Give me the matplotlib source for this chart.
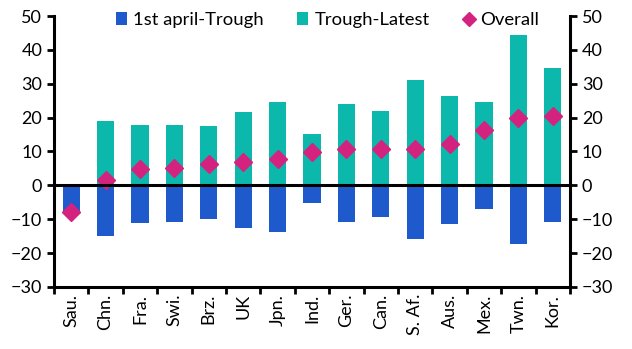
import matplotlib.pyplot as plt
import numpy as np

plt.rcParams['font.family'] = ['Lato', 'DejaVu Sans']

countries = ['Sau.', 'Chn.', 'Fra.', 'Swi.', 'Brz.', 'UK', 'Jpn.', 'Ind.',
             'Ger.', 'Can.', 'S. Af.', 'Aus.', 'Mex.', 'Twn.', 'Kor.']
april_trough = [-7.8, -15.0, -11.0, -10.7, -9.9, -12.5, -13.8, -5.1,
                -10.8, -9.3, -15.8, -11.3, -6.9, -17.2, -10.8]
trough_latest = [0.3, 19.1, 17.9, 17.9, 17.6, 21.8, 24.7, 15.3,
                 24.1, 22.0, 31.2, 26.5, 24.7, 44.4, 34.7]
overall = [-7.9, 1.6, 4.8, 5.2, 6.4, 6.8, 7.9, 9.7,
           10.8, 10.8, 10.8, 12.3, 16.2, 19.8, 20.4]

blue = '#1f5acd'
teal = '#0cb8ab'
pink = '#d4237f'

fig = plt.figure(figsize=(6.32, 3.49), dpi=100)
ax = fig.add_axes([0.0854, 0.178, 0.8166, 0.776])

x = np.arange(len(countries))
b1 = ax.bar(x, april_trough, width=0.5, color=blue, label='1st april-Trough', zorder=2)
b2 = ax.bar(x, trough_latest, width=0.5, color=teal, label='Trough-Latest', zorder=2)
d, = ax.plot(x, overall, 'D', color=pink, ms=9, label='Overall', zorder=3)
ax.axhline(0, color='black', lw=2.2, zorder=4)

ax.set_xlim(-0.5, len(countries) - 0.5)
ax.set_ylim(-30, 50)
ax.set_yticks(range(-30, 51, 10))
ax.set_xticks(np.arange(-0.5, len(countries), 1))
ax.set_xticklabels([])
ax.set_xticks(x, minor=True)
ax.set_xticklabels(countries, minor=True, rotation=90, fontsize=13)
ax.tick_params(axis='x', which='minor', length=0, pad=5)
ax.tick_params(axis='x', which='major', length=5, width=2, direction='out')
ax.tick_params(axis='y', labelsize=13, length=5, width=2, right=True, labelright=True)

for s in ['left', 'right', 'bottom']:
    ax.spines[s].set_linewidth(2.2)
ax.spines['top'].set_visible(False)

ax.legend([b1, b2, d], ['1st april-Trough', 'Trough-Latest', 'Overall'],
          loc='upper center', ncol=3, frameon=False, fontsize=13.3,
          handlelength=0.6, handletextpad=0.35, columnspacing=1.8,
          bbox_to_anchor=(0.53, 1.075), markerscale=0.75)

plt.savefig('out.png', dpi=100)
